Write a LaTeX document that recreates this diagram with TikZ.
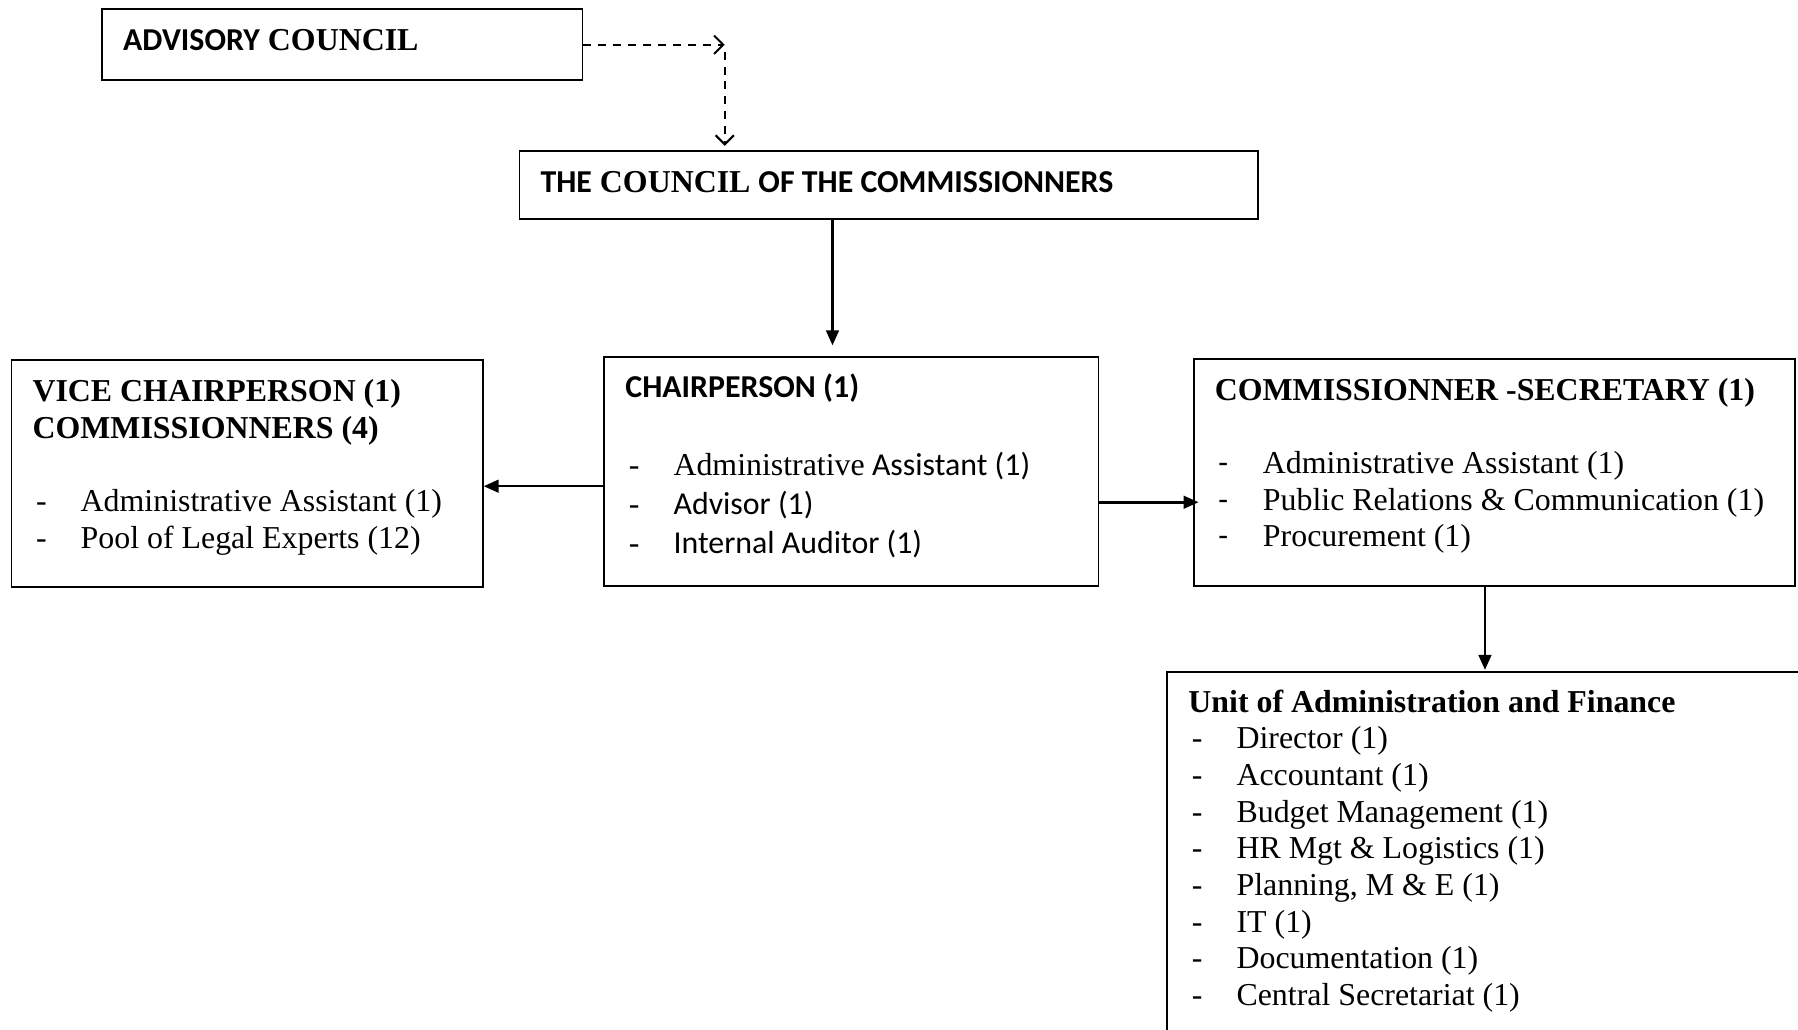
\documentclass[tikz,border=0pt]{standalone}
\usepackage{fontspec}
\setmainfont{Liberation Serif}
\newfontfamily\calfont{Carlito}
\usetikzlibrary{arrows.meta}
\newcommand{\itm}[1]{\makebox[21pt][l]{\hspace{1.5pt}-}#1}
\newcommand{\citm}[1]{\makebox[21pt][l]{\hspace{1.5pt}{\calfont -}}#1}
\begin{document}
\begin{tikzpicture}[x=0.5pt,y=-0.5pt,
  box/.style={draw, line width=0.8pt, inner sep=0pt},
  txt/.style={anchor=base west, inner sep=0pt, font=\fontsize{13.9}{16}\selectfont},
  ctxt/.style={anchor=base west, inner sep=0pt, font=\fontsize{13.9}{17}\selectfont},
  arr/.style={-{Triangle[length=6.5pt,width=5.5pt]}, line width=1.1pt},
  darr/.style={-{Straight Barb[length=4pt,width=8pt]}, dash pattern=on 3.5pt off 3pt, line width=0.9pt}]
\path[use as bounding box] (0,0) rectangle (1568,898);

% boxes
\node[box, minimum width=209.5pt, minimum height=31pt] (adv) at (298.5,39) {};
\node[box, minimum width=322pt, minimum height=29.5pt] (council) at (775,161.5) {};
\node[box, minimum width=205.5pt, minimum height=99pt] (vice) at (215.5,413) {};
\node[box, minimum width=215.5pt, minimum height=100pt] (chair) at (742.5,411) {};
\node[box, minimum width=262pt, minimum height=99pt] (comm) at (1303,412) {};
\begin{scope}
\clip (0,0) rectangle (1568,898);
\node[box, minimum width=311pt, minimum height=182pt] (unit) at (1329,768) {};
\end{scope}

% texts
\node[txt] (advt) at (107,44) {\bfseries{\calfont ADVISORY} COUNCIL};
\node[txt] (councilt) at (471,168) {\bfseries{\calfont THE} COUNCIL {\calfont OF THE COMMISSIONNERS}};
\node[txt] (vicet) at (28,350) {\begin{tabular}[t]{@{}l@{}}
\textbf{VICE CHAIRPERSON (1)}\\
\textbf{COMMISSIONNERS (4)}\\
\\
\itm{Administrative Assistant (1)}\\
\itm{Pool of Legal Experts (12)}
\end{tabular}};
\node[ctxt] (chairt) at (545,347) {\begin{tabular}[t]{@{}l@{}}
{\calfont\bfseries CHAIRPERSON (1)}\\
\\
\itm{Administrative{\calfont\ Assistant (1)}}\\
\itm{\calfont Advisor (1)}\\
\itm{\calfont Internal Auditor (1)}
\end{tabular}};
\node[txt] (commt) at (1059,349) {\begin{tabular}[t]{@{}l@{}}
\textbf{COMMISSIONNER -SECRETARY (1)}\\
\\
\citm{Administrative Assistant (1)}\\
\citm{Public Relations \& Communication (1)}\\
\citm{Procurement (1)}
\end{tabular}};
\node[txt] (unitt) at (1036,621) {\begin{tabular}[t]{@{}l@{}}
\textbf{Unit of Administration and Finance}\\
\itm{Director (1)}\\
\itm{Accountant (1)}\\
\itm{Budget Management (1)}\\
\itm{HR Mgt \& Logistics (1)}\\
\itm{Planning, M \& E (1)}\\
\itm{IT (1)}\\
\itm{Documentation (1)}\\
\itm{Central Secretariat (1)}
\end{tabular}};

% connectors
\coordinate (corner) at (632,39);
\draw[darr] (adv.east) -- (corner);
\draw[darr, shorten <=3pt, shorten >=2pt] (corner) -- (corner |- council.north);
\draw[arr, shorten >=4.5pt] ([xshift=-24.5pt]council.south) -- ([xshift=-24.5pt]council.south |- chair.north);
\draw[arr] ([yshift=-6.5pt]chair.west) -- ([yshift=-6.5pt]chair.west -| vice.east);
\draw[arr, shorten >=-2.5pt] ([yshift=-13.5pt]chair.east) -- ([yshift=-13.5pt]chair.east -| comm.west);
\draw[arr, shorten >=0.5pt] ([xshift=-4pt]comm.south) -- ([xshift=-4pt]comm.south |- unit.north);
\end{tikzpicture}
\end{document}
